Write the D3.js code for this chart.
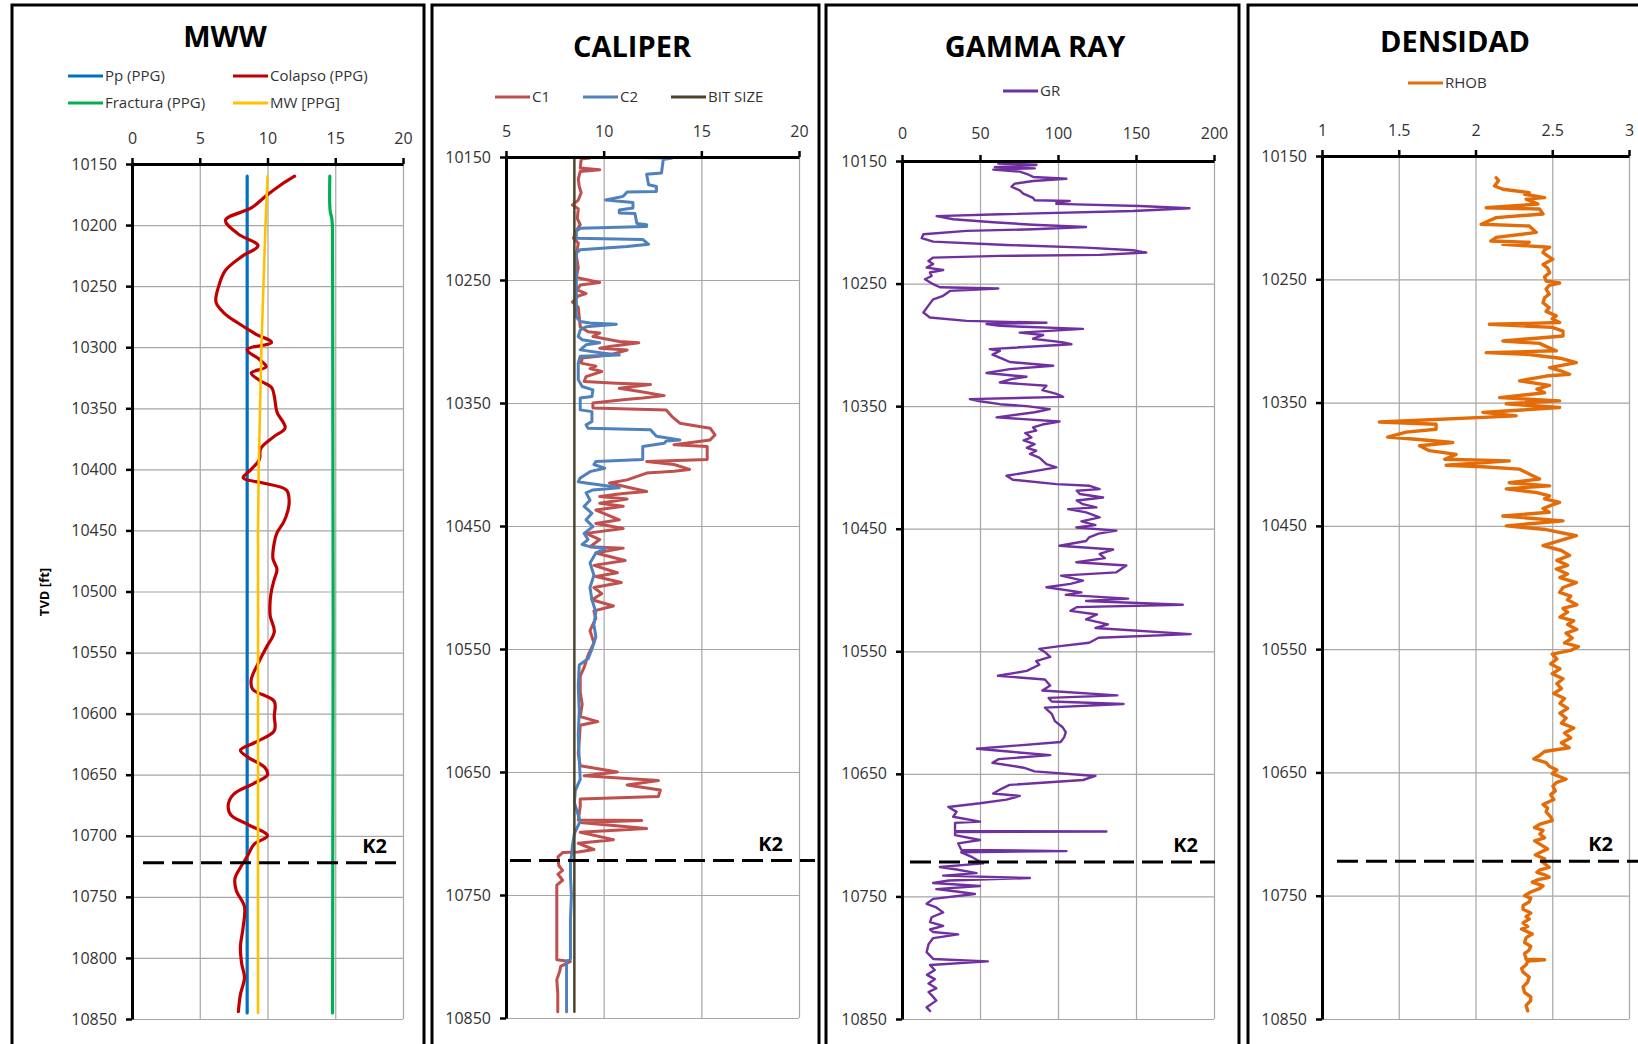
<!DOCTYPE html>
<html>
<head>
<meta charset="utf-8">
<script src="https://cdn.jsdelivr.net/npm/d3@7"></script>
<style>
  body { margin: 0; background: #fff; }
  svg { display: block; font-family: "Open Sans", sans-serif; }
</style>
</head>
<body>
<svg id="chart" width="1638" height="1044"></svg>
<script>
// ---- data (depth in ft, value in track units) ----
const depthTicksMww = d3.range(10150, 10851, 50);
const depthTicksLog = d3.range(10150, 10851, 100);
const mwwTicks = [0, 5, 10, 15, 20];
const caliperTicks = [5, 10, 15, 20];
const grTicks = [0, 50, 100, 150, 200];
const densTicks = [1, 1.5, 2, 2.5, 3];
const k2Depth = 10722;

const pp = [[10160, 8.5], [10845, 8.5]];
const mw = [[10160, 10.0], [10175, 9.95], [10200, 9.85], [10250, 9.7], [10300, 9.55],
  [10350, 9.45], [10400, 9.35], [10450, 9.3], [10845, 9.3]];
const fractura = [[10160, 14.6], [10188, 14.62], [10195, 14.75], [10205, 14.8], [10845, 14.8]];
const colapso = [[10160, 12.0], [10167, 11.0], [10176, 9.9], [10186, 8.8], [10196, 6.9], [10207, 7.8],
  [10217, 9.3], [10225, 8.2], [10237, 6.9], [10250, 6.4], [10263, 6.2], [10272, 6.8], [10280, 7.8],
  [10289, 9.1], [10296, 10.3], [10302, 8.5], [10310, 9.4], [10316, 9.9], [10321, 8.8], [10327, 9.4],
  [10333, 10.3], [10340, 10.5], [10353, 10.7], [10366, 11.3], [10373, 10.5], [10383, 9.5], [10392, 9.4],
  [10400, 8.8], [10407, 8.2], [10411, 9.6], [10417, 11.4], [10426, 11.6], [10434, 11.5], [10443, 11.2],
  [10452, 10.7], [10460, 10.5], [10473, 10.4], [10482, 10.7], [10490, 10.5], [10499, 10.3], [10507, 10.2],
  [10520, 10.2], [10533, 10.5], [10546, 9.9], [10559, 9.3], [10572, 8.8], [10580, 8.9], [10590, 10.5],
  [10602, 10.5], [10614, 10.5], [10623, 9.2], [10630, 8.0], [10636, 8.6], [10644, 9.8], [10650, 10.0],
  [10657, 9.0], [10666, 7.5], [10675, 7.1], [10683, 7.3], [10691, 8.6], [10700, 10.0], [10707, 9.0],
  [10717, 8.5], [10726, 8.0], [10735, 7.6], [10745, 7.7], [10758, 8.3], [10775, 8.2], [10791, 8.0],
  [10805, 8.1], [10816, 8.3], [10830, 8.0], [10844, 7.85]];

const c1 = [[10150.8, 9.3], [10151.6, 8.85], [10159, 8.8], [10160.3, 9.8], [10161.7, 8.8], [10168, 8.7],
  [10174, 8.75], [10179, 8.85], [10185, 8.7], [10189, 8.4], [10192, 8.7], [10200, 8.65], [10205, 8.8],
  [10210, 8.6], [10216, 8.45], [10220, 8.7], [10230, 8.6], [10240, 8.7], [10248, 8.6], [10252, 9.8],
  [10254, 8.8], [10258, 8.65], [10261, 9.1], [10263, 8.7], [10268, 8.4], [10272, 8.7], [10280, 8.75],
  [10288, 8.8], [10292, 9.2], [10293, 9.8], [10296, 9.45], [10300, 10.8], [10301, 11.8], [10304, 10.3],
  [10305.5, 9.8], [10307, 11.2], [10311, 10.3], [10313.5, 8.9], [10317.6, 8.85], [10320, 9.6], [10322, 9.3],
  [10324.4, 9.9], [10328.5, 9.1], [10332.5, 9.0], [10334, 10.65], [10335, 12.4], [10338, 10.8],
  [10340.7, 11.85], [10344, 13.1], [10346, 12.0], [10347, 11.25], [10350, 9.45], [10354, 9.45],
  [10355.6, 13.2], [10361, 13.5], [10366.4, 13.9], [10370.5, 15.45], [10376, 15.7], [10380, 15.45],
  [10384, 13.6], [10385.4, 15.3], [10396, 15.3], [10397.6, 12.2], [10400, 13.6], [10404, 14.4],
  [10405.5, 13.6], [10407, 12.2], [10412.5, 11.2], [10415, 10.3], [10422, 12.2], [10423.5, 11.0],
  [10426, 9.8], [10428, 11.2], [10431.5, 9.8], [10434, 11.0], [10437, 9.6], [10445, 10.8], [10448, 9.6],
  [10452, 11.0], [10456, 9.1], [10461, 9.8], [10466.8, 9.3], [10468, 11.0], [10472, 9.6], [10478, 11.1],
  [10482, 9.5], [10488, 10.7], [10491, 9.6], [10496, 10.9], [10500, 9.5], [10505, 9.9], [10510, 9.4],
  [10515, 10.5], [10519, 9.5], [10525, 9.6], [10535, 9.3], [10545, 9.5], [10555, 9.2], [10565, 9.0],
  [10572, 8.8], [10585, 8.8], [10595, 8.9], [10605, 8.8], [10609, 9.7], [10612, 8.8], [10625, 8.75],
  [10635, 8.7], [10645, 8.8], [10650, 10.7], [10653, 9.0], [10657, 12.8], [10660.5, 11.2], [10664.6, 12.9],
  [10670, 12.8], [10672, 8.8], [10678, 8.8], [10689, 8.7], [10689.5, 11.95], [10691, 8.8], [10696, 12.2],
  [10699, 8.8], [10705, 10.5], [10708, 8.7], [10713, 9.5], [10715, 8.7], [10715.5, 7.9], [10719, 7.66],
  [10726, 7.7], [10730, 7.9], [10733, 7.66], [10738, 7.9], [10742, 7.6], [10750, 7.6], [10780, 7.6],
  [10802.7, 7.6], [10804, 8.3], [10808, 7.8], [10812, 7.75], [10819, 7.6], [10830, 7.65], [10845, 7.65]];

const c2 = [[10150.5, 12.0], [10150.8, 13.5], [10152, 13.05], [10163, 12.96], [10164, 12.2], [10172.5, 12.3],
  [10174, 12.7], [10178, 12.7], [10178.5, 11.2], [10182, 11.0], [10185, 10.1], [10186, 10.8], [10187, 11.5],
  [10191.5, 11.5], [10193, 10.8], [10195.5, 10.8], [10196, 11.6], [10204, 11.7], [10205, 12.2],
  [10206.5, 12.2], [10208, 8.8], [10210.5, 8.6], [10216, 8.6], [10217, 12.0], [10221, 12.3], [10222.7, 11.2],
  [10225.4, 8.8], [10228, 8.6], [10239, 8.55], [10244, 8.6], [10252.5, 8.6], [10263, 8.6], [10280, 8.6],
  [10283.7, 8.8], [10285, 9.3], [10286, 10.65], [10288, 9.1], [10290.5, 8.8], [10296, 8.7], [10298.6, 8.9],
  [10301, 9.8], [10302.7, 9.1], [10306.8, 8.8], [10309.5, 10.0], [10311, 10.8], [10312, 8.8], [10317.6, 8.7],
  [10331, 8.7], [10336.6, 8.9], [10339.3, 9.45], [10344.7, 9.4], [10346, 8.8], [10355.6, 8.8], [10357, 9.4],
  [10365, 9.4], [10367.8, 9.1], [10370.5, 9.2], [10371.8, 12.4], [10377, 12.7], [10380, 13.9], [10381, 13.2],
  [10382.7, 13.1], [10385.4, 12.0], [10396, 12.0], [10397.6, 9.6], [10400, 9.5], [10403, 10.05],
  [10405.8, 9.3], [10411, 8.8], [10414, 8.7], [10415, 9.1], [10418, 10.5], [10419, 10.8], [10420.7, 9.45],
  [10423, 9.1], [10429, 9.3], [10434, 9.0], [10439.7, 9.4], [10445, 9.1], [10450.5, 9.45], [10456, 9.0],
  [10461, 9.2], [10465, 8.9], [10466.8, 9.3], [10468, 10.1], [10472, 9.6], [10480, 9.3], [10490, 9.5],
  [10500, 9.3], [10510, 9.4], [10520, 9.6], [10530, 9.5], [10540, 9.6], [10550, 9.4], [10558, 9.2],
  [10563, 8.75], [10580, 8.7], [10600, 8.75], [10620, 8.7], [10640, 8.75], [10656, 8.8], [10665, 8.55],
  [10675, 8.5], [10690, 8.8], [10700, 8.5], [10710, 8.4], [10718, 8.35], [10724, 8.3], [10735, 8.3],
  [10750, 8.35], [10770, 8.3], [10790, 8.3], [10802, 8.3], [10804, 8.1], [10820, 8.1], [10845, 8.1]];

const bitSize = [[10150, 8.5], [10845, 8.5]];

const gr = [[10150.5, 94.7], [10152, 61.7], [10153.3, 86.2], [10155, 59.5], [10156, 85.1], [10157, 58.5],
  [10158.7, 75.5], [10161, 80.8], [10163, 84.1], [10164.5, 105.4], [10166.3, 84], [10168.5, 72.3],
  [10171, 70.2], [10174, 75.5], [10176.6, 77.7], [10180, 84], [10182, 85], [10182.6, 107.5], [10184, 99],
  [10185, 99], [10186.7, 152.3], [10188.6, 184.3], [10190.8, 148], [10193.5, 62.7], [10195, 22.2],
  [10197.5, 32.9], [10200, 58.5], [10202, 84], [10203.8, 118], [10205.7, 84], [10207, 41.4], [10209.8, 13.7],
  [10213, 12.6], [10215.8, 20], [10218.5, 67], [10220.7, 118], [10222.8, 148], [10224.7, 156.6],
  [10226.6, 126.7], [10227.4, 62.7], [10228.8, 20], [10231.5, 16.9], [10234, 20], [10237, 15.8],
  [10238.9, 26.4], [10241, 17.9], [10243.8, 19], [10246.5, 14.7], [10250.5, 20], [10253, 24.3],
  [10254, 61.7], [10256, 30.7], [10260, 26.4], [10262.8, 20], [10268, 16.9], [10273.6, 13.7],
  [10277.7, 17.9], [10280.4, 41.4], [10282, 92.6], [10283, 54.2], [10284.5, 62.7], [10287, 116],
  [10290, 75.5], [10292, 90.5], [10295, 84], [10298, 103.3], [10299.5, 108.6], [10303.5, 56.3], [10305, 62.7],
  [10308, 58], [10311.7, 64.9], [10314, 69.1], [10317, 96.9], [10319.8, 69.1], [10323, 54.2], [10326, 79.8],
  [10328, 70], [10330.7, 62.7], [10333.4, 92.6], [10337, 90], [10340, 99], [10342.4, 103.3], [10344.3, 43.5],
  [10346, 50], [10348.4, 62.7], [10350, 80], [10352.4, 94.7], [10355, 85], [10359.2, 60.6], [10362.5, 101],
  [10365, 90], [10367.4, 84], [10370, 86], [10372, 79], [10375.5, 83], [10378, 78], [10381, 85],
  [10384, 80], [10386.4, 86], [10389, 82], [10392, 88], [10397.3, 92.6], [10400, 99], [10406.8, 67],
  [10410, 71], [10413.6, 99], [10415, 120.3], [10417.7, 126.7], [10419, 112], [10421.7, 114],
  [10424.5, 128.9], [10427, 112], [10430, 116], [10432.6, 124.6], [10434, 106.5], [10436.7, 118],
  [10440.8, 126.7], [10444, 115], [10447, 124], [10449, 111.8], [10451.6, 137.4], [10454, 126],
  [10457, 120], [10460, 118], [10463.9, 101], [10467, 135.3], [10470.6, 126.7], [10474, 130],
  [10477.4, 111.8], [10480, 143.8], [10485.6, 137.4], [10488.3, 102], [10492.4, 116], [10495, 108],
  [10497.8, 92.6], [10501.9, 115], [10504, 105], [10507, 145], [10509, 118], [10512, 180], [10514, 112],
  [10517, 108], [10520, 125], [10524, 118], [10528, 132], [10531, 124], [10536, 185], [10539, 126],
  [10543, 120], [10546, 100], [10548, 88], [10551, 92], [10554.6, 95], [10558, 86], [10561, 88],
  [10566, 80], [10570, 61.5], [10573, 91.6], [10578, 95], [10582, 90], [10586, 138], [10588, 94],
  [10591, 96], [10593, 142], [10596, 91.6], [10601, 96], [10607, 98], [10612, 103], [10616, 105],
  [10620, 104], [10624, 101.7], [10629.5, 48], [10632, 70], [10634.7, 95], [10638, 62], [10641, 58],
  [10645, 78], [10648, 85], [10651.7, 124], [10655, 116], [10659, 69], [10662, 64], [10666, 58.4],
  [10668, 75.5], [10671, 67], [10674, 50], [10677, 29.7], [10681, 35], [10685, 32.8], [10689, 50],
  [10690, 34], [10696.5, 34], [10697, 131], [10697.5, 34], [10700, 34], [10704, 50], [10706.7, 36],
  [10712, 38], [10713, 105.4], [10714, 38], [10718, 45], [10723, 52], [10726, 24.3], [10728, 35],
  [10731, 47.8], [10733, 26.4], [10735, 82], [10737, 30], [10739, 20], [10741.5, 50], [10744, 22],
  [10746, 35], [10748, 46.7], [10752, 20], [10756, 15.8], [10759, 22], [10763, 26.4], [10767, 19],
  [10771, 18], [10774, 26.4], [10777, 18], [10779, 20], [10781, 36], [10784, 20], [10789, 17],
  [10795.5, 15.8], [10801, 20], [10803, 55], [10806, 18], [10810, 21], [10814, 16], [10817.5, 21],
  [10821, 17], [10825, 22], [10828, 17], [10832, 20], [10835, 22], [10840.5, 15.8], [10843.5, 18]];

const rhob = [[10167.6, 2.135], [10170, 2.15], [10174.3, 2.124], [10177, 2.178], [10179.7, 2.35],
  [10181, 2.32], [10183.8, 2.45], [10185, 2.33], [10189, 2.406], [10192, 2.07], [10193, 2.417],
  [10197, 2.44], [10200, 2.135], [10205.4, 2.037], [10206.8, 2.35], [10212, 2.396], [10216, 2.135],
  [10219, 2.10], [10220, 2.35], [10221.6, 2.178], [10224, 2.483], [10226, 2.45], [10228.4, 2.44],
  [10231, 2.47], [10233.8, 2.504], [10236, 2.47], [10238, 2.44], [10241, 2.47], [10244.6, 2.483],
  [10248, 2.45], [10251.4, 2.46], [10253, 2.548], [10255, 2.48], [10258, 2.46], [10262, 2.48],
  [10265, 2.45], [10269, 2.44], [10273, 2.48], [10276, 2.46], [10279.7, 2.526], [10282, 2.5],
  [10285, 2.548], [10285.8, 2.35], [10286.5, 2.09], [10289, 2.5], [10292, 2.57], [10296, 2.57],
  [10300, 2.178], [10302, 2.417], [10305, 2.47], [10308, 2.526], [10309.5, 2.07], [10311, 2.35],
  [10314, 2.55], [10317.6, 2.657], [10321.6, 2.483], [10324, 2.55], [10327, 2.613], [10328.5, 2.46],
  [10332.4, 2.287], [10336, 2.483], [10339, 2.4], [10342, 2.45], [10346, 2.157], [10348.6, 2.548],
  [10351, 2.2], [10354, 2.548], [10356, 2.3], [10358, 2.048], [10360.8, 2.265], [10365.7, 1.374],
  [10367.6, 1.743], [10371.6, 1.743], [10374, 1.548], [10378, 1.428], [10379.7, 1.613], [10382.4, 1.852],
  [10385, 1.635], [10389, 1.7], [10392, 1.874], [10396, 1.8], [10397.3, 2.22], [10400.8, 1.809],
  [10402, 2.048], [10404, 2.287], [10408, 2.35], [10412, 2.417], [10415, 2.22], [10417.6, 2.483],
  [10420, 2.2], [10423, 2.4], [10425.7, 2.483], [10428, 2.45], [10431, 2.548], [10433, 2.5], [10436, 2.44],
  [10439, 2.48], [10442, 2.178], [10446, 2.57], [10450, 2.2], [10453, 2.46], [10458, 2.657], [10462, 2.55],
  [10466, 2.44], [10470, 2.56], [10474, 2.613], [10478, 2.53], [10482, 2.6], [10485, 2.526], [10489, 2.6],
  [10492, 2.55], [10496, 2.657], [10500, 2.57], [10504, 2.548], [10507, 2.62], [10510, 2.6], [10514, 2.66],
  [10517, 2.57], [10520, 2.6], [10524, 2.55], [10527, 2.64], [10530, 2.6], [10534, 2.66], [10537, 2.59],
  [10541, 2.63], [10545, 2.58], [10548, 2.67], [10551, 2.62], [10554, 2.5], [10558, 2.53], [10562, 2.49],
  [10566, 2.55], [10570, 2.5], [10574, 2.57], [10578, 2.53], [10582, 2.56], [10586, 2.51], [10590, 2.58],
  [10594, 2.55], [10598, 2.6], [10602, 2.55], [10606, 2.59], [10610, 2.56], [10614, 2.64], [10618, 2.58],
  [10622, 2.62], [10626, 2.56], [10630, 2.61], [10633, 2.45], [10636, 2.42], [10639, 2.38], [10642, 2.46],
  [10645, 2.48], [10648, 2.53], [10651, 2.5], [10655.5, 2.59], [10658, 2.53], [10661, 2.504], [10665, 2.52],
  [10668, 2.49], [10672, 2.51], [10676, 2.44], [10679, 2.47], [10682, 2.46], [10686, 2.49], [10689, 2.50],
  [10692, 2.42], [10694.7, 2.385], [10697, 2.44], [10700, 2.42], [10703, 2.45], [10705.5, 2.385],
  [10709, 2.43], [10712, 2.47], [10715, 2.42], [10717, 2.39], [10720, 2.45], [10722, 2.43], [10725, 2.46],
  [10727, 2.48], [10729, 2.42], [10731, 2.40], [10733, 2.45], [10735, 2.48], [10737, 2.41], [10739, 2.37],
  [10742, 2.44], [10744, 2.42], [10747, 2.36], [10750, 2.32], [10752, 2.36], [10755, 2.35], [10758, 2.31],
  [10761, 2.31], [10764, 2.36], [10767, 2.33], [10769, 2.35], [10772, 2.31], [10775, 2.34], [10777, 2.30],
  [10781, 2.37], [10784, 2.33], [10788, 2.32], [10791, 2.36], [10794, 2.35], [10797, 2.32],
  [10801.5, 2.33], [10802, 2.45], [10803, 2.34], [10806, 2.33], [10809, 2.3], [10812, 2.31], [10816, 2.35],
  [10820, 2.34], [10824, 2.31], [10828.5, 2.32], [10832, 2.36], [10835, 2.36], [10839, 2.33],
  [10843.4, 2.34]];

// ---- layout ----
const svg = d3.select('#chart');

const panels = [
  { title: 'MWW', titleX: 225, titleY: 47, box: [12, 424],
    plot: { l: 132, r: 403, t: 164, b: 1019 }, xDomain: [0, 20], xTicks: mwwTicks, yTicks: depthTicksMww,
    labelPad: 14, k2: [143, 398],
    legend: [
      { name: 'Pp (PPG)', color: '#0070C0', x: 68, y: 76 },
      { name: 'Colapso (PPG)', color: '#C00000', x: 233, y: 76 },
      { name: 'Fractura (PPG)', color: '#00B050', x: 68, y: 103 },
      { name: 'MW [PPG]', color: '#FFC000', x: 233, y: 103 }],
    series: [
      { data: pp, color: '#0070C0', width: 3.2 },
      { data: colapso, color: '#C00000', width: 3.2, smooth: true },
      { data: fractura, color: '#00B050', width: 3.2, smooth: true },
      { data: mw, color: '#FFC000', width: 2.6 }] },
  { title: 'CALIPER', titleX: 632, titleY: 57, box: [432, 819],
    plot: { l: 506, r: 799, t: 157, b: 1018 }, xDomain: [5, 20], xTicks: caliperTicks, yTicks: depthTicksLog,
    labelPad: 14, k2: [510, 815],
    legend: [
      { name: 'C1', color: '#C0504D', x: 495, y: 97 },
      { name: 'C2', color: '#4F81BD', x: 583, y: 97 },
      { name: 'BIT SIZE', color: '#4A452A', x: 671, y: 97 }],
    series: [
      { data: c1, color: '#C0504D', width: 3 },
      { data: c2, color: '#4F81BD', width: 3 },
      { data: bitSize, color: '#4A452A', width: 2.5 }] },
  { title: 'GAMMA RAY', titleX: 1035, titleY: 57, box: [826, 1239],
    plot: { l: 902, r: 1214, t: 161, b: 1019 }, xDomain: [0, 200], xTicks: grTicks, yTicks: depthTicksLog,
    labelPad: 16, k2: [910, 1215],
    legend: [{ name: 'GR', color: '#7030A0', x: 1003, y: 91 }],
    series: [{ data: gr, color: '#7030A0', width: 2.4 }] },
  { title: 'DENSIDAD', titleX: 1455, titleY: 52, box: [1248, 1660],
    plot: { l: 1322, r: 1629, t: 156, b: 1019 }, xDomain: [1, 3], xTicks: densTicks, yTicks: depthTicksLog,
    labelPad: 14, k2: [1337, 1650],
    legend: [{ name: 'RHOB', color: '#E36C09', x: 1408, y: 83 }],
    series: [{ data: rhob, color: '#E36C09', width: 3.4 }] }
];

panels.forEach(p => {
  const g = svg.append('g');
  const x = d3.scaleLinear(p.xDomain, [p.plot.l, p.plot.r]);
  const y = d3.scaleLinear([10150, 10850], [p.plot.t, p.plot.b]);
  const w = p.plot.r - p.plot.l, h = p.plot.b - p.plot.t;

  // panel frame
  g.append('rect').attr('x', p.box[0]).attr('y', 5)
    .attr('width', p.box[1] - p.box[0]).attr('height', 1100)
    .attr('fill', 'none').attr('stroke', '#000').attr('stroke-width', 3);

  // title
  g.append('text').attr('x', p.titleX).attr('y', p.titleY)
    .attr('text-anchor', 'middle').attr('font-size', 29).attr('font-weight', 700)
    .attr('fill', '#000').text(p.title);

  // legend
  p.legend.forEach(it => {
    g.append('line').attr('x1', it.x).attr('x2', it.x + 35).attr('y1', it.y).attr('y2', it.y)
      .attr('stroke', it.color).attr('stroke-width', 3);
    g.append('text').attr('x', it.x + 37).attr('y', it.y).attr('dy', '0.35em')
      .attr('font-size', 15).attr('fill', '#333').text(it.name);
  });

  // grid
  g.append('g').attr('transform', `translate(0,${p.plot.t})`)
    .call(d3.axisTop(x).tickValues(p.xTicks).tickSize(-h).tickFormat(''))
    .call(a => a.select('.domain').remove())
    .selectAll('line').attr('stroke', '#a6a6a6').attr('stroke-width', 1.2);
  g.append('g').attr('transform', `translate(${p.plot.l},0)`)
    .call(d3.axisLeft(y).tickValues(p.yTicks).tickSize(-w).tickFormat(''))
    .call(a => a.select('.domain').remove())
    .selectAll('line').attr('stroke', '#a6a6a6').attr('stroke-width', 1.2);

  // curves
  p.series.forEach(s => {
    const line = d3.line().x(d => x(d[1])).y(d => y(d[0]))
      .curve(s.smooth ? d3.curveCatmullRom.alpha(0.5) : d3.curveLinear);
    g.append('path').datum(s.data).attr('d', line)
      .attr('fill', 'none').attr('stroke', s.color).attr('stroke-width', s.width)
      .attr('stroke-linejoin', 'round').attr('stroke-linecap', 'round');
  });

  // axes
  const xAxis = g.append('g').attr('transform', `translate(0,${p.plot.t})`)
    .call(d3.axisTop(x).tickValues(p.xTicks).tickSizeInner(6).tickSizeOuter(0)
      .tickPadding(p.labelPad).tickFormat(d3.format('~g')));
  const yAxis = g.append('g').attr('transform', `translate(${p.plot.l},0)`)
    .call(d3.axisLeft(y).tickValues(p.yTicks).tickSizeInner(6).tickSizeOuter(0).tickPadding(9)
      .tickFormat(d3.format('d')));
  [xAxis, yAxis].forEach(a => {
    a.attr('font-family', null).attr('font-size', null);
    a.select('.domain').attr('stroke', '#000').attr('stroke-width', 3);
    a.selectAll('.tick line').attr('stroke', '#000').attr('stroke-width', 2.5);
    a.selectAll('.tick text').attr('font-size', 16).attr('fill', '#333');
  });

  // K2 marker
  g.append('line').attr('x1', p.k2[0]).attr('x2', p.k2[1]).attr('y1', y(k2Depth)).attr('y2', y(k2Depth))
    .attr('stroke', '#000').attr('stroke-width', 3).attr('stroke-dasharray', '21,8');
  g.append('text').attr('x', p.plot.r - 16).attr('y', y(k2Depth) - 10)
    .attr('text-anchor', 'end').attr('font-size', 20).attr('font-weight', 700).text('K2');
});

svg.append('text').attr('transform', 'translate(49,592) rotate(-90)')
  .attr('text-anchor', 'middle').attr('font-size', 13).attr('font-weight', 700).text('TVD [ft]');
</script>
</body>
</html>
